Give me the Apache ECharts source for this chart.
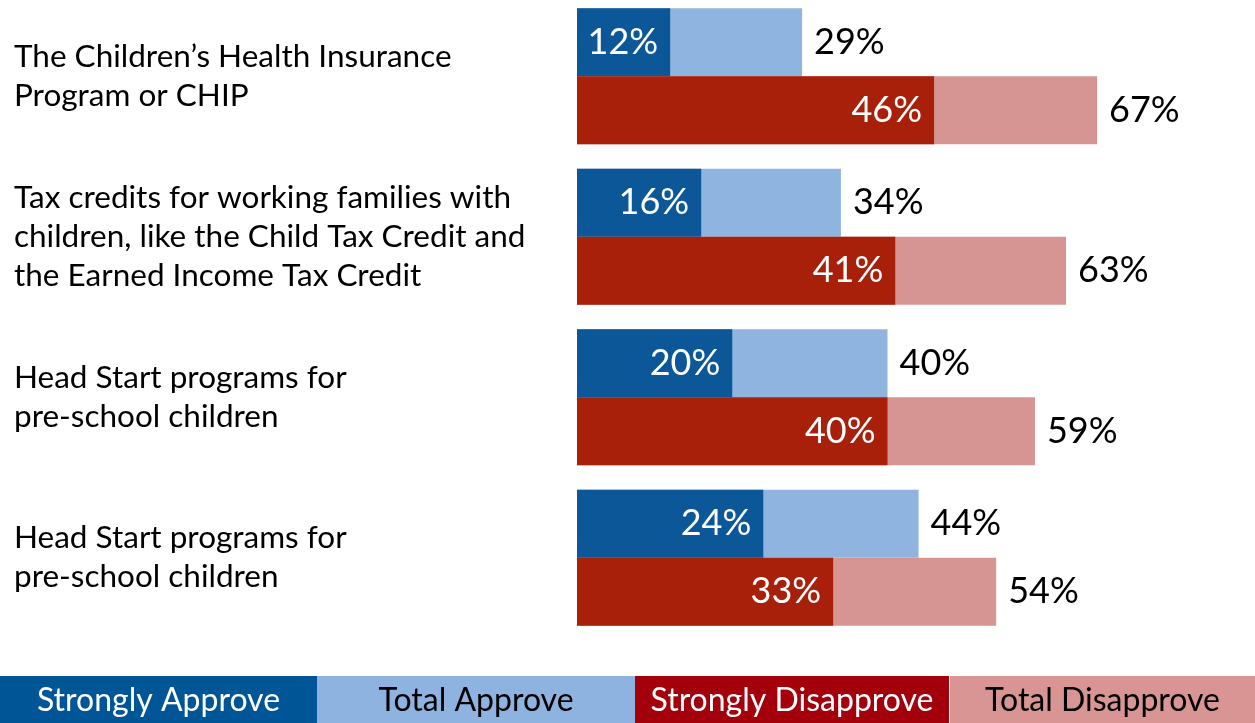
<!DOCTYPE html>
<html>
<head>
<meta charset="utf-8">
<style>
  html, body { margin: 0; padding: 0; background: #fff; }
  #chart { width: 1255px; height: 723px; }
</style>
<script src="https://cdn.jsdelivr.net/npm/echarts@6/dist/echarts.min.js"></script>
</head>
<body>
<div id="chart"></div>
<script>
// Programs asked about
const categories = [
  'The Children\u2019s Health Insurance\nProgram or CHIP',
  'Tax credits for working families with\nchildren, like the Child Tax Credit and\nthe Earned Income Tax Credit',
  'Head Start programs for\npre-school children',
  'Head Start programs for\npre-school children'
];

// Shares in percent
const stronglyApprove = [12, 16, 20, 24];
const totalApprove = [29, 34, 40, 44];
const stronglyDisapprove = [46, 41, 40, 33];
const totalDisapprove = [67, 63, 59, 54];

const legendNames = ['Strongly Approve', 'Total Approve', 'Strongly Disapprove', 'Total Disapprove'];

const FONT = 'Lato';
const colors = {
  strongApprove: '#0b5798',
  totalApprove: '#8fb4e0',
  strongDisapprove: '#a8200a',
  totalDisapprove: '#d69593'
};
const legendColors = ['#005596', '#8fb3e0', '#a3000b', '#d89593'];
const legendText = ['#ffffff', '#000000', '#ffffff', '#000000'];
// left/right edges of the legend strip cells
const legendEdges = [[0, 317], [317, 635], [635, 949], [950, 1255]];

const chart = echarts.init(document.getElementById('chart'));

const pct = p => p.value + '%';

function totalSeries(name, data, color) {
  return {
    name, type: 'bar', data, yAxisIndex: 0,
    barWidth: 68, barGap: '0%',
    itemStyle: { color },
    label: {
      show: true, position: 'right', distance: 12, formatter: pct,
      color: '#000', fontFamily: FONT, fontSize: 36
    },
    z: 2
  };
}
function strongSeries(name, data, color) {
  return {
    name, type: 'bar', data, yAxisIndex: 1,
    barWidth: 68, barGap: '0%',
    itemStyle: { color },
    label: {
      show: true, position: 'insideRight', distance: 12, formatter: pct,
      color: '#fff', fontFamily: FONT, fontSize: 36
    },
    z: 3
  };
}

const legendGraphics = [];
legendNames.forEach((name, i) => {
  const [x0, x1] = legendEdges[i];
  legendGraphics.push({
    type: 'rect',
    left: x0, top: 676,
    shape: { width: x1 - x0, height: 47 },
    style: { fill: legendColors[i] }
  });
  legendGraphics.push({
    type: 'text',
    x: (x0 + x1) / 2, y: 701,
    style: {
      text: name, fill: legendText[i], font: '32px ' + FONT,
      align: 'center', verticalAlign: 'middle'
    }
  });
});

const yBase = {
  type: 'category', data: categories, inverse: true,
  axisLine: { show: false }, axisTick: { show: false }
};

chart.setOption({
  animation: false,
  grid: {
    left: 577, right: 57, top: -4, height: 642,
    containLabel: false, outerBoundsMode: 'none'
  },
  xAxis: {
    type: 'value', min: 0, max: 80, show: false
  },
  yAxis: [
    Object.assign({}, yBase, {
      axisLabel: {
        align: 'left', margin: 563, color: '#000',
        fontFamily: FONT, fontSize: 31.5, lineHeight: 39,
        padding: [0, 0, 8, 0]
      }
    }),
    Object.assign({}, yBase, { axisLabel: { show: false } })
  ],
  series: [
    totalSeries('Total Approve', totalApprove, colors.totalApprove),
    totalSeries('Total Disapprove', totalDisapprove, colors.totalDisapprove),
    strongSeries('Strongly Approve', stronglyApprove, colors.strongApprove),
    strongSeries('Strongly Disapprove', stronglyDisapprove, colors.strongDisapprove)
  ],
  graphic: legendGraphics
});
</script>
</body>
</html>
